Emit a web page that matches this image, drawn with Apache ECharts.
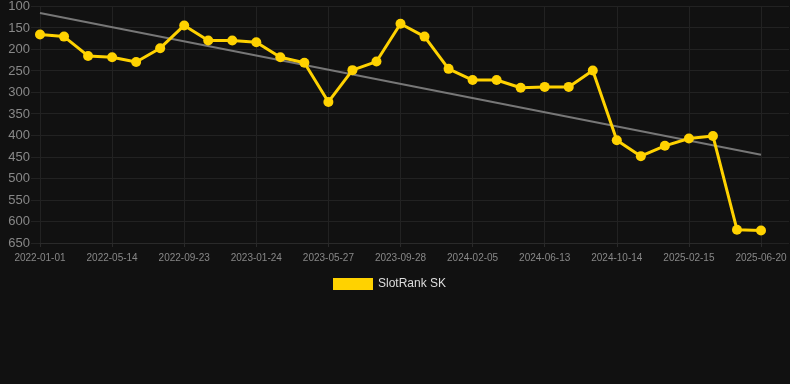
<!DOCTYPE html>
<html>
<head>
<meta charset="utf-8">
<script src="https://cdn.jsdelivr.net/npm/echarts@6/dist/echarts.min.js"></script>
<style>
  html, body { margin: 0; padding: 0; background: #111111; }
  #chart { width: 790px; height: 384px; }
</style>
</head>
<body>
<div id="chart"></div>
<script>
// dates on the category axis (every third one is labelled)
var dates = [
  '2022-01-01', '2022-02-14', '2022-03-30', '2022-05-14', '2022-06-27', '2022-08-10',
  '2022-09-23', '2022-11-03', '2022-12-14', '2023-01-24', '2023-03-05', '2023-04-15',
  '2023-05-27', '2023-07-07', '2023-08-17', '2023-09-28', '2023-11-10', '2023-12-24',
  '2024-02-05', '2024-03-18', '2024-04-30', '2024-06-13', '2024-07-24', '2024-09-03',
  '2024-10-14', '2024-11-24', '2025-01-05', '2025-02-15', '2025-03-29', '2025-05-09',
  '2025-06-20'
];
var rankValues = [
  165, 170, 215, 218, 229, 197, 144, 179, 179, 183, 218, 231,
  322, 248, 228, 140, 170, 245, 271, 271, 289, 287, 287, 249,
  411, 448, 424, 407, 401, 619, 621
];
var trendEnds = [115, 445];
var yTicks = { min: 100, max: 650, interval: 50 };

var myChart = echarts.init(document.getElementById('chart'));
var option = {
  backgroundColor: '#111111',
  animation: false,
  textStyle: { fontFamily: 'Liberation Sans, Arial, sans-serif' },
  legend: {
    data: ['SlotRank SK'],
    top: 278,
    left: 333,
    padding: 0,
    itemWidth: 40,
    itemHeight: 12,
    icon: 'rect',
    textStyle: { color: '#dddddd', fontSize: 12 }
  },
  grid: [
    { left: 40, right: 29, top: 6, bottom: 141 },
    { left: 31, right: 1, top: 6, bottom: 141 }
  ],
  xAxis: [{
    type: 'category',
    gridIndex: 0,
    data: dates,
    boundaryGap: false,
    axisLine: { show: true, lineStyle: { color: '#2a2a2a' } },
    axisTick: { show: true, interval: 2, length: 4, lineStyle: { color: '#2a2a2a' } },
    axisLabel: { interval: 2, color: '#888888', fontSize: 10, margin: 10 },
    splitLine: { show: true, interval: 2, lineStyle: { color: '#222222' } }
  }, {
    type: 'value',
    gridIndex: 1,
    show: false
  }],
  yAxis: [{
    type: 'value',
    gridIndex: 0,
    inverse: true,
    min: yTicks.min,
    max: yTicks.max,
    interval: yTicks.interval,
    axisLine: { show: false },
    axisTick: { show: false },
    axisLabel: { color: '#888888', fontSize: 13, margin: 10 },
    splitLine: { show: false }
  }, {
    type: 'value',
    gridIndex: 1,
    inverse: true,
    min: yTicks.min,
    max: yTicks.max,
    interval: yTicks.interval,
    axisLine: { show: false },
    axisTick: { show: false },
    axisLabel: { show: false },
    splitLine: { show: true, lineStyle: { color: '#222222' } }
  }],
  series: [{
    name: 'SlotRank SK',
    type: 'line',
    xAxisIndex: 0,
    yAxisIndex: 0,
    data: rankValues,
    symbol: 'circle',
    symbolSize: 10,
    itemStyle: { color: '#ffd200' },
    lineStyle: { color: '#ffd200', width: 3 },
    z: 3,
    markLine: {
      silent: true,
      symbol: ['none', 'none'],
      label: { show: false },
      lineStyle: { color: '#777777', width: 2, type: 'solid' },
      data: [[{ coord: [0, trendEnds[0]] }, { coord: [dates.length - 1, trendEnds[1]] }]],
      z: 2
    }
  }]
};
myChart.setOption(option);
</script>
</body>
</html>
